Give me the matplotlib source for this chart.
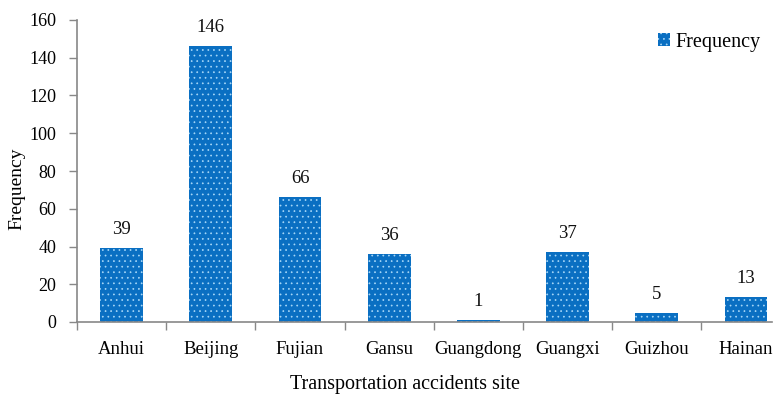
import matplotlib
matplotlib.use("Agg")
import matplotlib.pyplot as plt
import numpy as np

categories = ["Anhui", "Beijing", "Fujian", "Gansu", "Guangdong", "Guangxi", "Guizhou", "Hainan"]
frequency = [39, 146, 66, 36, 1, 37, 5, 13]
yticks = [0, 20, 40, 60, 80, 100, 120, 140, 160]

plt.rcParams['font.family'] = ['Liberation Serif', 'DejaVu Serif']
plt.rcParams['hatch.linewidth'] = 0.5
plt.rcParams['hatch.color'] = '#a8d8f8'

W, H = 782, 404
fig = plt.figure(figsize=(W/100, H/100), dpi=100)
ax = fig.add_axes([77/W, 82/H, (772-77)/W, 302/H])

x = np.arange(len(categories))
bars = ax.bar(x, frequency, width=0.48, color='#0a6fc2', edgecolor='#a8d8f8',
              linewidth=0, hatch='...', label='Frequency')

for xi, v in zip(x, frequency):
    ax.annotate(str(v), (xi, v), xytext=(0, 10), textcoords='offset pixels',
                ha='center', va='bottom', fontsize=13.5, color='#111111')

ax.set_yticks(yticks)
ax.set_xticks(x)
ax.set_xticklabels(categories)
ax.set_xticks(np.arange(-0.5, len(categories), 1.0), minor=True)
ax.set_xlim(-0.5, -0.5 + (772-77)/89.2)
ax.set_ylim(0, 160)
ax.tick_params(axis='x', which='major', length=0, pad=14, labelsize=13.5)
ax.tick_params(axis='x', which='minor', length=6, width=1, color='#888888', direction='out')
ax.tick_params(axis='y', length=6, width=1, color='#888888', pad=9, labelsize=13)

for s in ['top', 'right']:
    ax.spines[s].set_visible(False)
for s in ['left', 'bottom']:
    ax.spines[s].set_color('#888888')
    ax.spines[s].set_linewidth(1.2)

ax.set_ylabel('Frequency', fontsize=14)
ax.yaxis.set_label_coords(-(77-17)/695, (404-189-82)/302)
ax.set_xlabel('Transportation accidents site', fontsize=14.5)
ax.xaxis.set_label_coords((405-77)/695, -(384-322)/302)
ax.xaxis.label.set_va('center')
ax.yaxis.label.set_va('center')

leg = ax.legend(loc='center left', bbox_to_anchor=((658-77)/695, (322-42)/302), frameon=False,
                fontsize=14.5, handlelength=0.6, handleheight=0.6, handletextpad=0.25,
                borderaxespad=0, borderpad=0)

fig.savefig('out.png', dpi=100)
